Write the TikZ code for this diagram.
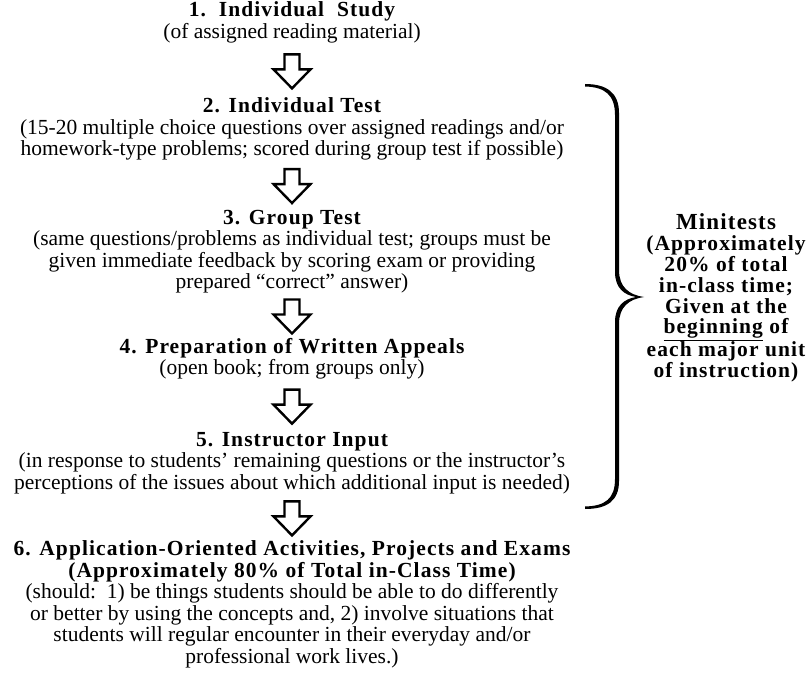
\documentclass[tikz,border=0pt]{standalone}
\usepackage{fontspec}
\setmainfont{Liberation Serif}
\newfontfamily\headfont[LetterSpace=5]{Liberation Serif}
\usetikzlibrary{calc}

\begin{document}
\begin{tikzpicture}[x=1pt,y=-1pt,
                txt/.style={align=center,inner sep=0pt,font={\fontsize{21.5}{21.5}\selectfont}},
                hollow/.style={line width=2.4pt,line join=miter,fill=white}]
                \useasboundingbox (0,0) rectangle (810,676);
                % the six steps
                \node[txt] (s1) at (292,22.5) {{\headfont\bfseries 1.\ \ Individual\ \ Study}\\
                    (of assigned reading material)};
                \node[txt] (s2) at (292,129) {{\headfont\bfseries 2. Individual Test}\\
                    (15-20 multiple choice questions over assigned readings and/or\\
                    homework-type problems; scored during group test if possible)};
                \node[txt] (s3) at (292,251.5) {{\headfont\bfseries 3. Group Test}\\
                    (same questions/problems as individual test; groups must be\\
                    given immediate feedback by scoring exam or providing\\
                    prepared “correct” answer)};
                \node[txt] (s4) at (292,358.5) {{\headfont\bfseries 4. Preparation of Written Appeals}\\
                    (open book; from groups only)};
                \node[txt] (s5) at (292,463) {{\headfont\bfseries 5. Instructor Input}\\
                    (in response to students’ remaining questions or the instructor’s\\
                    perceptions of the issues about which additional input is needed)};
                \node[txt] (s6) at (292,604.5) {{\headfont\bfseries 6. Application-Oriented Activities, Projects and Exams}\\
                    {\headfont\bfseries (Approximately 80\% of Total in-Class Time)}\\
                    (should:\ \ 1) be things students should be able to do differently\\
                    or better by using the concepts and, 2) involve situations that\\
                    students will regular encounter in their everyday and/or\\
                    professional work lives.)};
                % hollow arrows between the steps
                \foreach \u/\v in {s1/s2,s2/s3,s3/s4,s4/s5,s5/s6}{
                    \path (\u.south) -- (\v.north) coordinate[midway] (mid);
                    \draw[hollow,shift={(mid)}] (-7.5,-16) -- (7.5,-16) -- (7.5,-1) -- (18.5,-1) -- (0,18)
                        -- (-18.5,-1) -- (-7.5,-1) -- cycle;
                }
                % brace and minitests note
                \fill (585,84) .. controls (607,84) and (619,93) .. (619,113) -- (619,270)
                    .. controls (619,287) and (629,295) .. (644,297)
                    .. controls (629,299) and (619,307) .. (619,324) -- (619,481)
                    .. controls (619,501) and (607,509) .. (585,509)
                    -- (585,506.5) .. controls (605,506) and (615,499) .. (615,479) -- (615,322)
                    .. controls (615,306) and (624,299) .. (636,297)
                    .. controls (624,295) and (615,288) .. (615,272) -- (615,115)
                    .. controls (615,95) and (605,87) .. (585,86.5) -- cycle;
                \node[txt,font={\fontsize{21.5}{20.8}\selectfont\headfont\bfseries}] (mini) at (726,298)
                    {{\fontsize{23}{23}\selectfont Minitests}\\
                    (Approximately\\
                    20\% of total\\
                    in-class time;\\
                    Given at the\\
                    \underline{beginning} of\\
                    each major unit\\
                    of instruction)};
            \end{tikzpicture}
\end{document}
